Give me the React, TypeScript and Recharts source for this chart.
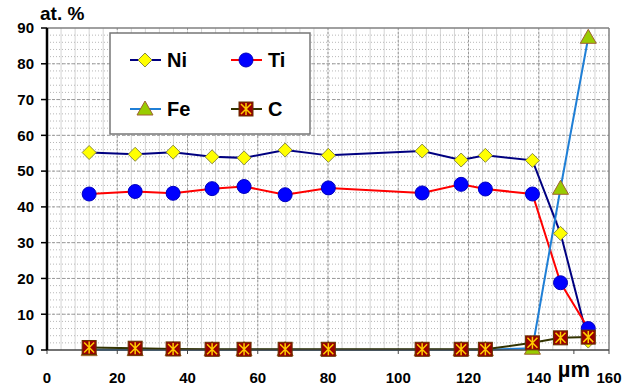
import {
  CartesianGrid,
  Line,
  LineChart,
  ReferenceLine,
  XAxis,
  YAxis,
} from 'recharts'

// depth positions, µm
const depth = [12, 25.1, 35.9, 47, 56.1, 67.8, 80.1, 106.8, 117.9, 124.8, 138.2, 146.2, 154.1]
const ni = [55.2, 54.7, 55.3, 54.0, 53.7, 55.9, 54.4, 55.6, 53.1, 54.4, 53.0, 32.6, 2.5]
const ti = [43.6, 44.3, 43.8, 45.1, 45.7, 43.4, 45.3, 43.9, 46.3, 45.0, 43.6, 18.8, 6.0]
const fe = [0.1, 0.1, 0.1, 0.1, 0.1, 0.1, 0.1, 0.1, 0.1, 0.1, 0.5, 45.2, 87.4]
const c = [0.7, 0.5, 0.3, 0.2, 0.2, 0.2, 0.2, 0.2, 0.2, 0.2, 2.0, 3.4, 3.6]

const xTicks = [0, 20, 40, 60, 80, 100, 120, 140, 150, 160]
const yTicks = [0, 10, 20, 30, 40, 50, 60, 70, 80, 90]

const data = depth.map((x, i) => ({ x, Ni: ni[i], Ti: ti[i], Fe: fe[i], C: c[i] }))

const minorV = Array.from({ length: 39 }, (_, i) => (i + 1) * 4)
const majorV = [20, 40, 60, 80, 100, 120, 140]
const minorH = Array.from({ length: 44 }, (_, i) => (i + 1) * 2)
const majorH = [10, 20, 30, 40, 50, 60, 70, 80]

const FONT = '"Liberation Sans", Arial, sans-serif'

const Diamond = ({ cx, cy }: any) => (
  <polygon
    points={`${cx},${cy - 7} ${cx + 7},${cy} ${cx},${cy + 7} ${cx - 7},${cy}`}
    fill="#ffff00"
    stroke="#8a8a40"
    strokeWidth={1}
  />
)
const Dot = ({ cx, cy }: any) => <circle cx={cx} cy={cy} r={7} fill="#0000ff" stroke="#0000c0" />
const Tri = ({ cx, cy }: any) => (
  <polygon
    points={`${cx},${cy - 8} ${cx + 8},${cy + 6} ${cx - 8},${cy + 6}`}
    fill="#99cc00"
    stroke="#a06030"
    strokeWidth={1}
  />
)
const Star = ({ cx, cy }: any) => (
  <g>
    <rect x={cx - 7} y={cy - 7} width={14} height={14} fill="#990000" stroke="#663300" />
    <path
      d={`M${cx},${cy - 6}V${cy + 6}M${cx - 5},${cy - 5}L${cx + 5},${cy + 5}M${cx + 5},${cy - 5}L${cx - 5},${cy + 5}`}
      stroke="#ffcc00"
      strokeWidth={1.5}
    />
  </g>
)

const dotOf = (Shape: any) => (p: any) => <Shape key={p.key ?? p.index} cx={p.cx} cy={p.cy} />

const XTick = ({ x, y, payload }: any) =>
  payload.value === 150 ? (
    <text x={x} y={y + 21} textAnchor="middle" fontFamily={FONT} fontWeight="bold" fontSize={22} fill="#000">
      µm
    </text>
  ) : (
    <text x={x} y={y + 27} textAnchor="middle" fontFamily={FONT} fontWeight="bold" fontSize={15} fill="#000">
      {payload.value}
    </text>
  )

function LegendBox() {
  const item = (x: number, y: number, color: string, Shape: any, label: string) => (
    <g>
      <line x1={x} y1={y} x2={x + 31} y2={y} stroke={color} strokeWidth={2} />
      <Shape cx={x + 15} cy={y} />
      <text x={x + 37} y={y + 7} fontFamily={FONT} fontWeight="bold" fontSize={20} fill="#000">
        {label}
      </text>
    </g>
  )
  return (
    <svg
      width={202}
      height={103}
      style={{ position: 'absolute', left: 109, top: 32 }}
    >
      <rect x={1} y={1} width={200} height={101} fill="#fff" stroke="#777" strokeWidth={1.5} />
      {item(21, 28, '#000080', Diamond, 'Ni')}
      {item(122, 28, '#ff0000', Dot, 'Ti')}
      {item(21, 77, '#1f7fd6', Tri, 'Fe')}
      {item(122, 77, '#333300', Star, 'C')}
    </svg>
  )
}

export default function App() {
  return (
    <div style={{ position: 'relative', width: 624, height: 387, background: '#fff' }}>
      <style>{'body{margin:0}'}</style>
      <LineChart width={624} height={387} data={data} margin={{ top: 28, right: 15, bottom: 0, left: 0 }}>
        <CartesianGrid horizontal={false} verticalValues={minorV} stroke="#d4d4d4" />
        <CartesianGrid vertical={false} horizontalValues={minorH} stroke="#b8b8b8" strokeDasharray="1 2" />
        <CartesianGrid horizontal={false} verticalValues={majorV} stroke="#9a9a9a" strokeDasharray="2 2" />
        <CartesianGrid vertical={false} horizontalValues={majorH} stroke="#9a9a9a" strokeDasharray="3 2" />
        <ReferenceLine y={90} stroke="#808080" strokeWidth={1.5} />
        <ReferenceLine x={160} stroke="#808080" strokeWidth={1.5} />
        <XAxis
          dataKey="x"
          type="number"
          domain={[0, 160]}
          ticks={xTicks}
          height={37}
          tick={<XTick />}
          tickLine={{ stroke: '#444' }}
          tickSize={4}
          axisLine={{ stroke: '#444', strokeWidth: 1.5 }}
          interval={0}
        />
        <YAxis
          type="number"
          domain={[0, 90]}
          ticks={yTicks}
          width={47}
          tick={{ fill: '#000', fontSize: 15, fontWeight: 'bold', fontFamily: FONT }}
          tickLine={{ stroke: '#000', strokeWidth: 1.5 }}
          tickSize={6}
          tickMargin={7}
          axisLine={{ stroke: '#000', strokeWidth: 2.5 }}
          interval={0}
        />
        <Line dataKey="Ni" stroke="#000080" strokeWidth={2} dot={dotOf(Diamond)} isAnimationActive={false} />
        <Line dataKey="Ti" stroke="#ff0000" strokeWidth={2} dot={dotOf(Dot)} isAnimationActive={false} />
        <Line dataKey="Fe" stroke="#1f7fd6" strokeWidth={2} dot={dotOf(Tri)} isAnimationActive={false} />
        <Line dataKey="C" stroke="#333300" strokeWidth={2} dot={dotOf(Star)} isAnimationActive={false} />
      </LineChart>
      <div
        style={{
          position: 'absolute',
          left: 40,
          top: 3,
          fontFamily: FONT,
          fontWeight: 'bold',
          fontSize: 19,
        }}
      >
        at. %
      </div>
      <LegendBox />
    </div>
  )
}
